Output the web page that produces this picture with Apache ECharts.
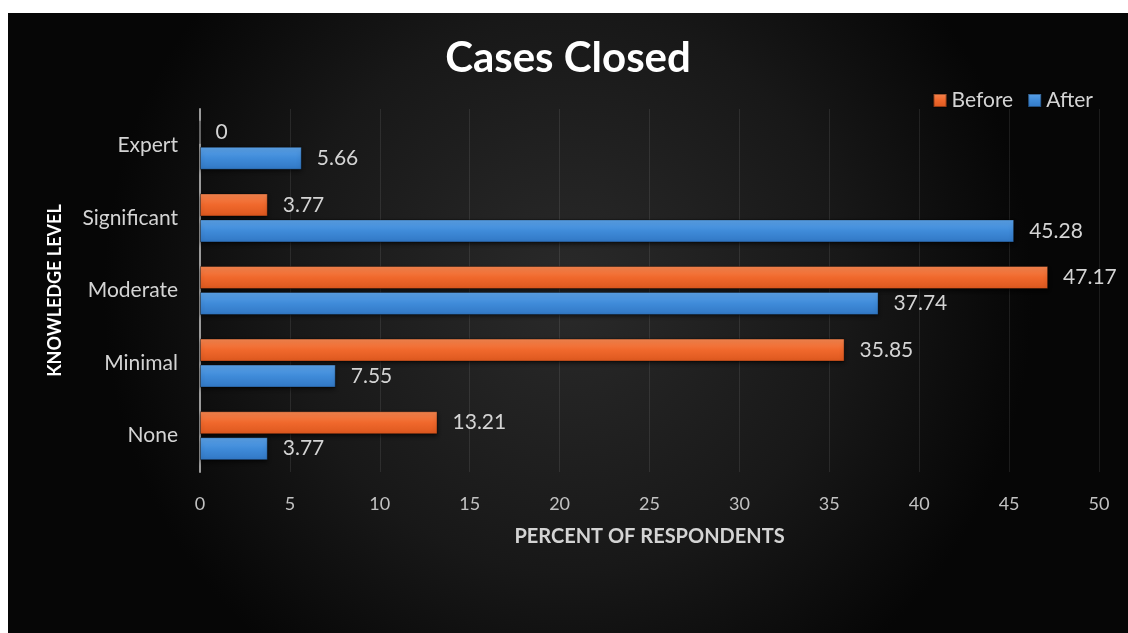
<!DOCTYPE html>
<html>
<head>
<meta charset="utf-8">
<script src="https://cdn.jsdelivr.net/npm/echarts@6/dist/echarts.min.js"></script>
<style>
  html, body { margin: 0; padding: 0; background: #ffffff; width: 1128px; height: 633px; overflow: hidden; }
  #chart { position: absolute; left: 8px; top: 13px; width: 1120px; height: 620px; }
</style>
</head>
<body>
<div id="chart"></div>
<script>
// Knowledge levels, listed bottom to top along the category axis
const levels = ['None', 'Minimal', 'Moderate', 'Significant', 'Expert'];
// Percent of respondents per level
const before = [13.21, 35.85, 47.17, 3.77, 0];
const after = [3.77, 7.55, 37.74, 45.28, 5.66];
const xTicks = [0, 50, 5]; // min, max, step

const FONT = 'Lato, "Open Sans", sans-serif';
const LABEL = '#d4d4d4';

function barFill(top, mid, bottom) {
  return new echarts.graphic.LinearGradient(0, 0, 0, 1, [
    { offset: 0, color: top },
    { offset: 0.5, color: mid },
    { offset: 1, color: bottom }
  ]);
}

const orange = barFill('#f68650', '#f0682c', '#dc571e');
const blue = barFill('#5ca2e8', '#3f8bd9', '#3177c4');

const valueLabel = {
  show: true,
  position: 'right',
  distance: 15,
  color: LABEL,
  fontFamily: FONT,
  fontSize: 21
};

const barStyle = (fill) => ({
  color: fill,
  borderColor: 'rgba(0,0,0,0.35)',
  borderWidth: 1,
  shadowColor: 'rgba(0,0,0,0.6)',
  shadowBlur: 4,
  shadowOffsetY: 2
});

const chart = echarts.init(document.getElementById('chart'), null, { renderer: 'canvas' });
chart.setOption({
  backgroundColor: new echarts.graphic.RadialGradient(0.5, 0.45, 0.75, [
    { offset: 0, color: '#2a2a2a' },
    { offset: 0.6, color: '#181818' },
    { offset: 1, color: '#060606' }
  ]),
  title: {
    text: 'Cases Closed',
    left: 'center',
    top: 19,
    textStyle: { color: '#ffffff', fontFamily: FONT, fontWeight: 'bold', fontSize: 42 }
  },
  legend: {
    data: ['Before', 'After'],
    right: 30,
    top: 72,
    itemWidth: 13,
    itemHeight: 13,
    itemGap: 14,
    icon: 'rect',
    textStyle: { color: LABEL, fontFamily: FONT, fontSize: 21 }
  },
  grid: { left: 192, right: 29, top: 96, bottom: 161, containLabel: false },
  xAxis: {
    type: 'value',
    min: xTicks[0],
    max: xTicks[1],
    interval: xTicks[2],
    name: 'PERCENT OF RESPONDENTS',
    nameLocation: 'middle',
    nameGap: 55,
    nameTextStyle: { color: LABEL, fontFamily: FONT, fontWeight: 'bold', fontSize: 20 },
    axisLine: { show: false },
    axisTick: { show: false },
    axisLabel: { color: '#c2c2c2', fontFamily: FONT, fontSize: 18, margin: 23 },
    splitLine: { show: true, lineStyle: { color: 'rgba(255,255,255,0.09)', width: 1 } }
  },
  yAxis: {
    type: 'category',
    data: levels,
    name: 'KNOWLEDGE LEVEL',
    nameLocation: 'middle',
    nameGap: 136,
    nameTextStyle: { color: '#ffffff', fontFamily: FONT, fontWeight: 'bold', fontSize: 18 },
    axisLine: { show: true, lineStyle: { color: '#9a9a9a', width: 2 } },
    axisTick: { show: false },
    axisLabel: { color: LABEL, fontFamily: FONT, fontSize: 21, margin: 22 },
    splitLine: { show: false }
  },
  series: [
    {
      name: 'Before',
      type: 'bar',
      data: before,
      barWidth: 23,
      barGap: '13%',
      itemStyle: barStyle(orange),
      label: valueLabel
    },
    {
      name: 'After',
      type: 'bar',
      data: after,
      barWidth: 23,
      barGap: '13%',
      itemStyle: barStyle(blue),
      label: valueLabel
    }
  ],
  color: ['#f0682c', '#3f8bd9']
});
</script>
</body>
</html>
